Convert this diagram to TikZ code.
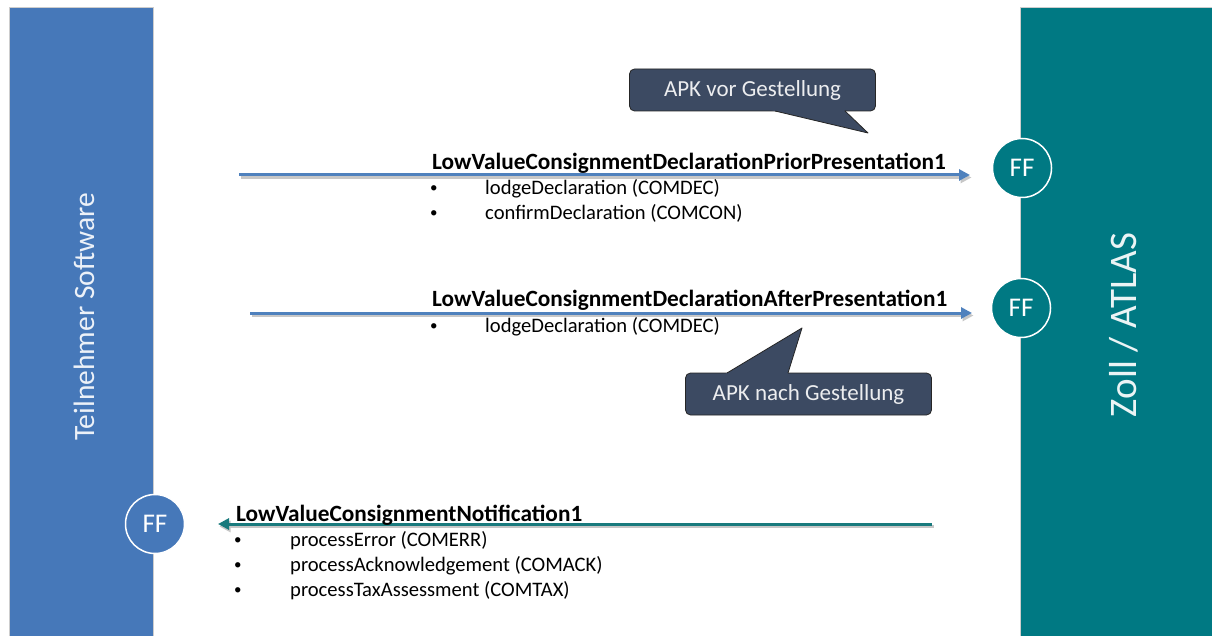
\documentclass[tikz,border=0pt]{standalone}
\usepackage{fontspec}
\setmainfont{Carlito}
\usetikzlibrary{arrows.meta}
\definecolor{TSBlue}{RGB}{70,120,185}
\definecolor{ZATeal}{RGB}{0,121,131}
\definecolor{MsgBlue}{RGB}{79,129,189}
\definecolor{MsgTeal}{RGB}{25,122,125}
\definecolor{APKSlate}{RGB}{60,74,98}
\definecolor{BarEdge}{RGB}{205,205,205}

\begin{document}
\begin{tikzpicture}[x=1pt, y=-1pt,
    bar/.style={draw=BarEdge, line width=1pt},
    ffnode/.style={circle, draw=white, line width=1.5pt, text=white,
                   minimum size=59pt, inner sep=0pt,
                   font=\fontsize{27}{28}\selectfont},
    msgtitle/.style={anchor=base west, inner sep=0pt,
                     font=\bfseries\fontsize{23.3}{26}\selectfont},
    msgitem/.style={anchor=base west, inner sep=0pt,
                    font=\fontsize{20.6}{24}\selectfont},
    bulletdot/.style={msgitem, font=\fontsize{15}{24}\selectfont},
    msgarrow/.style={line width=3pt, -{Triangle[length=11pt, width=11pt]}},
    msgshadow/.style={msgarrow, black!22},
    apkbox/.style={rectangle, rounded corners=5pt, fill=APKSlate,
                   draw=black!85, line width=0.8pt, text=white!90!APKSlate,
                   minimum width=246pt, minimum height=42pt,
                   font=\fontsize{23}{25}\selectfont},
    apkedge/.style={draw=black!85, line width=0.8pt, line join=round}]
  \useasboundingbox (0,0) rectangle (1212,636);
  \fill[white] (0,0) rectangle (1212,636);

  % the two parties
  \draw[bar, fill=TSBlue] (9,8) rectangle (153,645);
  \draw[bar, fill=ZATeal] (1020,8) rectangle (1220,645);
  \node[rotate=90, text=white!90!TSBlue, font=\fontsize{29.5}{31}\selectfont]
        (ts) at (84,317) {Teilnehmer Software};
  \node[rotate=90, text=white!92!ZATeal, font=\fontsize{39}{41}\selectfont]
        (za) at (1124,325) {Zoll / ATLAS};

  \node[ffnode, fill=ZATeal] (ff1) at (1022,168) {FF};
  \node[ffnode, fill=ZATeal] (ff2) at (1021,308) {FF};
  \node[ffnode, fill=TSBlue] (ff3) at (155,524) {FF};

  % message 1
  \coordinate (m1s) at (239,175);
  \coordinate (m1e) at (970,175);
  \draw[msgshadow] ([shift={(1.5,2.5)}]m1s) -- ([shift={(1.5,2.5)}]m1e);
  \draw[msgarrow, MsgBlue] (m1s) -- (m1e);
  \node[msgtitle] (t1) at (432,170)
        {LowValueConsignmentDeclarationPriorPresentation1};
  \node[bulletdot] (b1a) at (430,193) {•};
  \node[msgitem] (i1a) at (485,195) {lodgeDeclaration (COMDEC)};
  \node[bulletdot] (b1b) at (430,218) {•};
  \node[msgitem] (i1b) at (485,220) {confirmDeclaration (COMCON)};

  % message 2
  \coordinate (m2s) at (250,313);
  \coordinate (m2e) at (972,313);
  \draw[msgshadow] ([shift={(1.5,2.5)}]m2s) -- ([shift={(1.5,2.5)}]m2e);
  \draw[msgarrow, MsgBlue] (m2s) -- (m2e);
  \node[msgtitle] (t2) at (432,306)
        {LowValueConsignmentDeclarationAfterPresentation1};
  \node[bulletdot] (b2a) at (430,330) {•};
  \node[msgitem] (i2a) at (485,332) {lodgeDeclaration (COMDEC)};

  % message 3
  \coordinate (m3s) at (932,524);
  \coordinate (m3e) at (218,524);
  \draw[msgshadow] ([shift={(1.5,2.5)}]m3s) -- ([shift={(1.5,2.5)}]m3e);
  \draw[msgarrow, MsgTeal] (m3s) -- (m3e);
  \node[msgtitle] (t3) at (236,521) {LowValueConsignmentNotification1};
  \node[bulletdot] (b3a) at (234,544) {•};
  \node[msgitem] (i3a) at (290,546) {processError (COMERR)};
  \node[bulletdot] (b3b) at (234,569) {•};
  \node[msgitem] (i3b) at (290,571) {processAcknowledgement (COMACK)};
  \node[bulletdot] (b3c) at (234,594) {•};
  \node[msgitem] (i3c) at (290,596) {processTaxAssessment (COMTAX)};

  % callouts
  \node[apkbox] (apk1) at (752.5,90) {APK vor Gestellung};
  \coordinate (apk1tip) at (868,133);
  \fill[APKSlate] (749.6,105) -- (apk1tip) -- (838.7,105) -- cycle;
  \draw[apkedge] (775,111) -- (apk1tip) -- (845,111);

  \node[apkbox] (apk2) at (808.5,394) {APK nach Gestellung};
  \coordinate (apk2tip) at (802,328);
  \fill[APKSlate] (717,379) -- (apk2tip) -- (786.1,379) -- cycle;
  \draw[apkedge] (727,373) -- (apk2tip) -- (788,373);
\end{tikzpicture}
\end{document}
